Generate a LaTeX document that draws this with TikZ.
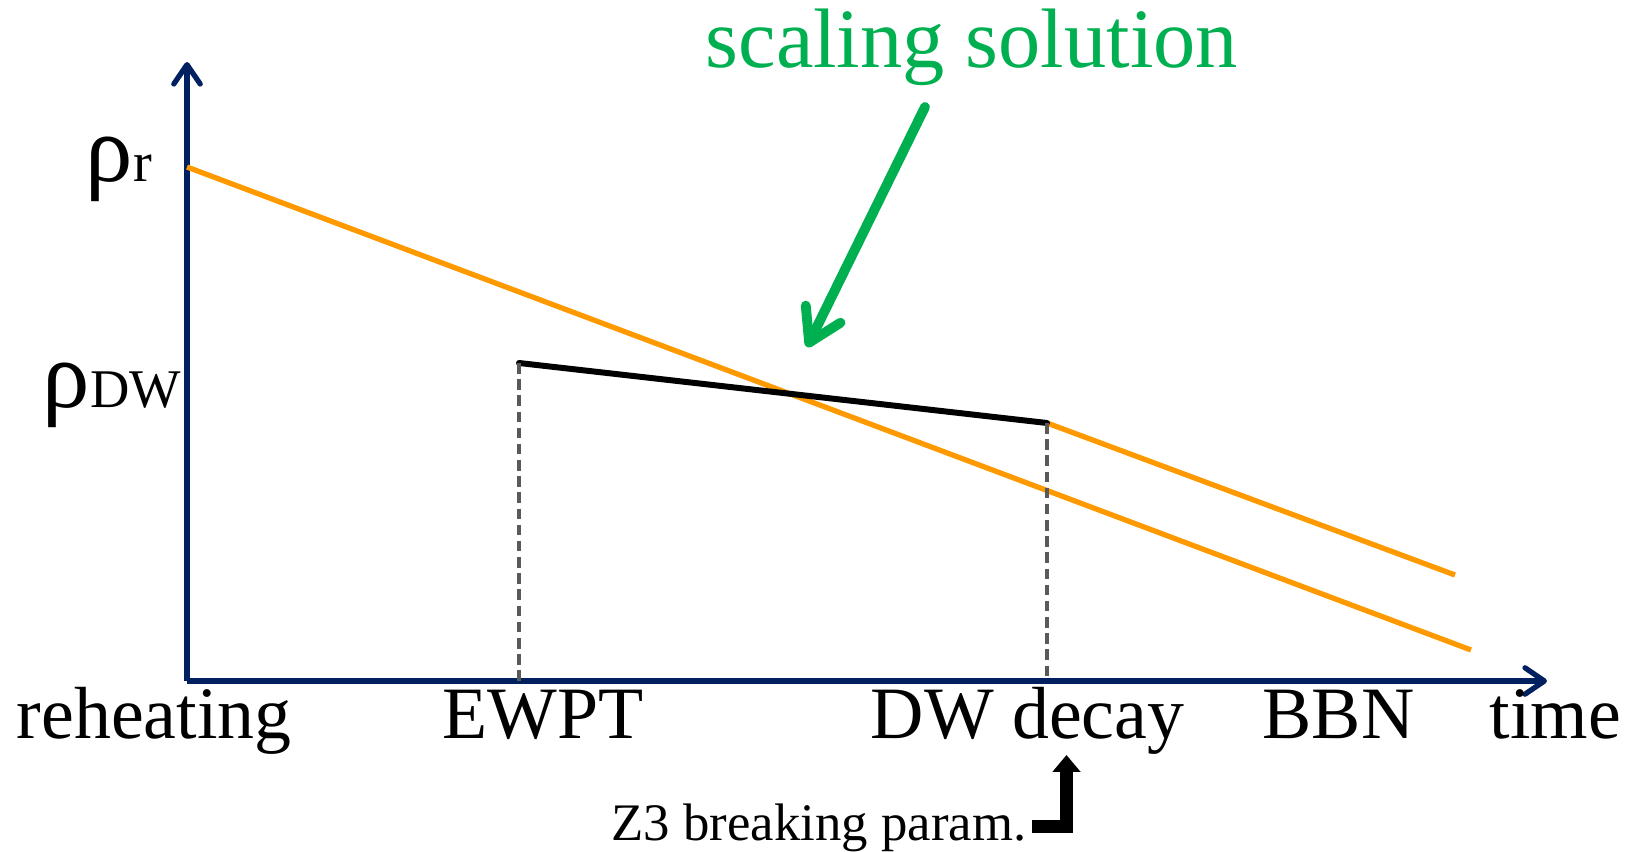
\documentclass[tikz,border=0pt]{standalone}
\usepackage{fontspec}
\setmainfont{Liberation Serif}
\usepackage{tikz}
\usetikzlibrary{arrows.meta}
\definecolor{axisblue}{RGB}{0,32,96}
\definecolor{radorange}{RGB}{255,153,0}
\definecolor{notegreen}{RGB}{0,176,80}
\definecolor{guidegray}{RGB}{89,89,89}

\begin{document}
\begin{tikzpicture}[x=0.01cm, y=-0.01cm]
        \tikzstyle{axis}=[draw=axisblue, line width=1.5pt,
            -{Straight Barb[length=5.5pt, width=7.5pt, round]}]
        \tikzstyle{radline}=[draw=radorange, line width=1.5pt]
        \tikzstyle{guide}=[draw=guidegray, line width=0.9pt,
            dash pattern=on 3pt off 1.6pt]
        \tikzstyle{timelabel}=[anchor=base west, inner sep=0pt,
            font=\fontsize{21}{24}\selectfont]
        \useasboundingbox (0,0) rectangle (1638,852);

            % axes
            \coordinate (o) at (187,681);
            \coordinate (ytop) at (187,62);
            \coordinate (xend) at (1547,681);
            \draw[axis] (o) -- (ytop);
            \draw[axis] (o) -- (xend);

            % energy densities
            \coordinate (rstart) at (187,167);
            \coordinate (rend) at (1471,650);
            \coordinate (ewpt) at (519,363);
            \coordinate (decay) at (1047,423);
            \coordinate (dwend) at (1455,575);
            \draw[radline] (rstart) -- (rend);
            \draw[radline] (decay) -- (dwend);
            \draw[line width=1.7pt, line cap=round] (ewpt) -- (decay);
            \draw[guide] (ewpt) -- (ewpt |- o);
            \draw[guide] (decay) -- (decay |- o);

            \node[anchor=base west, inner sep=0pt] (rhor) at (85,182)
                {\fontsize{27}{30}\selectfont ρ\fontsize{16}{18}\selectfont r};
            \node[anchor=base west, inner sep=0pt] (rhodw) at (42,408)
                {\fontsize{27}{30}\selectfont ρ\fontsize{15.5}{18}\selectfont DW};

            % time labels
            \node[timelabel] (reheat) at (16,739) {reheating};
            \node[timelabel] (ewptlab) at (442,739) {EWPT};
            \node[timelabel] (decaylab) at (870,739) {DW decay};
            \node[timelabel] (bbn) at (1262,739) {BBN};
            \node[timelabel] (timelab) at (1489,739) {time};

            % scaling solution
            \node[anchor=base west, inner sep=0pt, text=notegreen,
                font=\fontsize{24}{28}\selectfont] (scaling) at (705,68)
                {scaling solution};
            \coordinate (gstart) at (925,107);
            \coordinate (gtip) at (807,347);
            \draw[notegreen, line width=2.8pt, line cap=round,
                -{Straight Barb[length=9pt, width=11pt, round]}]
                (gstart) -- (gtip);

            % Z3 breaking
            \node[anchor=base west, inner sep=0pt,
                font=\fontsize{15}{18}\selectfont] (zthree) at (611,841)
                {Z3 breaking param.};
            \coordinate (zbar) at (1032,826.5);
            \coordinate (zcorner) at (1066.5,826.5);
            \coordinate (ztip) at (1066.5,755);
            \draw[line width=3.6pt,
                -{Triangle[length=4.8pt, width=7.7pt]}]
                (zbar) -- (zcorner) -- (ztip);
        \end{tikzpicture}
\end{document}
